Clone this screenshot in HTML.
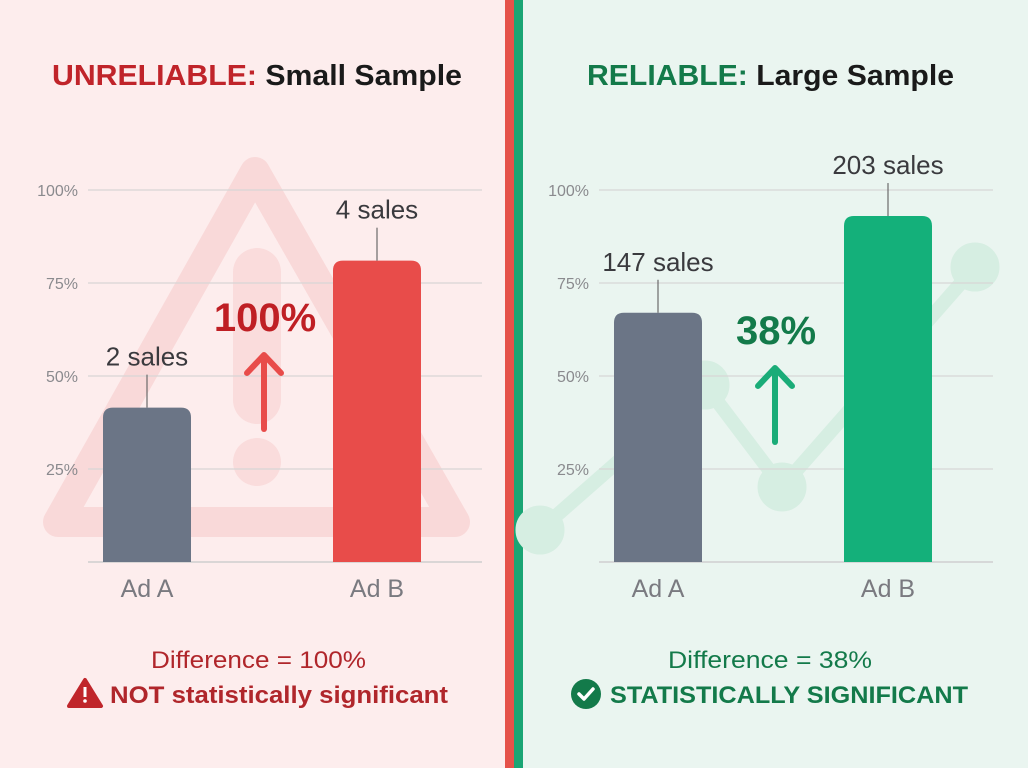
<!DOCTYPE html>
<html><head><meta charset="utf-8">
<style>
html,body{margin:0;padding:0;width:1028px;height:768px;overflow:hidden;font-family:"Liberation Sans",sans-serif;}
svg{display:block}
</style></head>
<body>
<svg id="c" width="1028" height="768" viewBox="0 0 1028 768" xmlns="http://www.w3.org/2000/svg">
<rect x="0" y="0" width="505" height="768" fill="#fdeded"/>
<rect x="523" y="0" width="505" height="768" fill="#eaf5f0"/>
<rect x="505" y="0" width="9" height="768" fill="#e5524a"/>
<rect x="514" y="0" width="9" height="768" fill="#1aa574"/>
<g>
<path d="M255,172 L455,522 L58,522 Z" fill="none" stroke="#f9d9d9" stroke-width="30" stroke-linejoin="round"/>
<line x1="257" y1="272" x2="257" y2="400" stroke="#fadcdc" stroke-width="48" stroke-linecap="round"/>
<circle cx="257" cy="462" r="24" fill="#fadcdc"/>
</g>
<g stroke="#d6eee2" fill="#d6eee2">
<polyline points="540,530 705,385 782,487 975,267" fill="none" stroke-width="14"/>
<circle cx="540" cy="530" r="24"/><circle cx="705" cy="385" r="24"/><circle cx="782" cy="487" r="24"/><circle cx="975" cy="267" r="24"/>
</g>
<text x="52" y="85" font-size="29" font-weight="bold" textLength="410" lengthAdjust="spacingAndGlyphs"><tspan fill="#c0242a">UNRELIABLE:</tspan><tspan fill="#1a1a1a"> Small Sample</tspan></text>
<text x="587" y="85" font-size="29" font-weight="bold" textLength="367" lengthAdjust="spacingAndGlyphs"><tspan fill="#137a4a">RELIABLE:</tspan><tspan fill="#1a1a1a"> Large Sample</tspan></text>
<g id="plots"></g>
<text x="151" y="668" font-size="24" fill="#b0262b" textLength="215" lengthAdjust="spacingAndGlyphs">Difference = 100%</text>
<g><path d="M85,680 L101,706 L69,706 Z" fill="#c0262b" stroke="#c0262b" stroke-width="4" stroke-linejoin="round"/><rect x="83.5" y="687" width="3" height="10" fill="#fff"/><circle cx="85" cy="701" r="1.8" fill="#fff"/></g>
<text x="110" y="703" font-size="24" font-weight="bold" fill="#b0262b" textLength="338" lengthAdjust="spacingAndGlyphs">NOT statistically significant</text>
<text x="668" y="668" font-size="24" fill="#137a4a" textLength="204" lengthAdjust="spacingAndGlyphs">Difference = 38%</text>
<g><circle cx="586" cy="694" r="15" fill="#137a4a"/><polyline points="579,694 584,699 593,689" fill="none" stroke="#fff" stroke-width="3.5" stroke-linecap="round" stroke-linejoin="round"/></g>
<text x="610" y="703" font-size="24" font-weight="bold" fill="#137a4a" textLength="358" lengthAdjust="spacingAndGlyphs">STATISTICALLY SIGNIFICANT</text>
</svg>
<script>
const categories = ["Ad A", "Ad B"];
const smallValues = [41.5, 81];
const largeValues = [67, 93];
const smallSales = ["2 sales", "4 sales"];
const largeSales = ["147 sales", "203 sales"];
const tickValues = [25, 50, 75, 100];
const tickLabels = ["25%", "50%", "75%", "100%"];
const smallDiff = "100%";
const largeDiff = "38%";

const NS = "http://www.w3.org/2000/svg";
const root = document.getElementById("plots");
function mk(tag, attrs, parent) {
  const e = document.createElementNS(NS, tag);
  for (const k in attrs) e.setAttribute(k, attrs[k]);
  (parent || root).appendChild(e);
  return e;
}
const y0 = 562, ppu = 3.72;
function yScale(v) { return y0 - v * ppu; }

function panel(prefix, left, vals, sales, colors, diff, diffColor, arrowColor, labelGap) {
  const g = mk("g", {});
  
  
  const gx0 = left, gx1 = left + 394;
  tickValues.forEach((t, i) => {
    const y = yScale(t);
    const l = mk("line", {x1: gx0, x2: gx1, y1: y, y2: y, stroke: "#d8d6d6", "stroke-width": 1.2}, g);
    
    
    const tx = mk("text", {x: gx0 - 10, y: y + 6, "text-anchor": "end", "font-size": 16, fill: "#8a8a8e"}, g);
    tx.textContent = tickLabels[i];
    
    
  });
  const base = mk("line", {x1: gx0, x2: gx1, y1: y0, y2: y0, stroke: "#cfcfcf", "stroke-width": 1.5}, g);
  
  
  const centers = [left + 59, left + 289];
  vals.forEach((v, i) => {
    const cx = centers[i], w = 88, top = yScale(v);
    const p = mk("path", {d: `M${cx-w/2},${y0} L${cx-w/2},${top+10} Q${cx-w/2},${top} ${cx-w/2+10},${top} L${cx+w/2-10},${top} Q${cx+w/2},${top} ${cx+w/2},${top+10} L${cx+w/2},${y0} Z`, fill: colors[i]}, g);
    
    
    const ln = mk("line", {x1: cx, x2: cx, y1: top, y2: top - 33, stroke: "#6b6b6b", "stroke-width": 1.2}, g);
    
    
    const st = mk("text", {x: cx, y: top - 42, "text-anchor": "middle", "font-size": 26, fill: "#3a3a3e"}, g);
    st.textContent = sales[i];
    
    
    const cl = mk("text", {x: cx, y: 597, "text-anchor": "middle", "font-size": 25, fill: "#7a7a80"}, g);
    cl.textContent = categories[i];
    
    
  });
  const mx = (centers[0] + centers[1]) / 2;
  const dt = mk("text", {x: mx + 3, y: labelGap, "text-anchor": "middle", "font-size": 40, "font-weight": "bold", fill: diffColor}, g);
  dt.textContent = diff;
  
  
  const ag = mk("g", {stroke: arrowColor, "stroke-width": 6, fill: "none", "stroke-linecap": "round", "stroke-linejoin": "round"}, g);
  
  
  const at = labelGap + 22, ab = at + 76;
  mk("line", {x1: mx + 2, x2: mx + 2, y1: at + 4, y2: ab}, ag);
  mk("polyline", {points: `${mx-15},${at+20} ${mx+2},${at+2} ${mx+19},${at+20}`}, ag);
}
panel("small-sample", 88, smallValues, smallSales, ["#6b7586", "#e84c4a"], smallDiff, "#bf1f24", "#e84c4a", 331);
panel("large-sample", 599, largeValues, largeSales, ["#6b7586", "#14b07a"], largeDiff, "#137a4a", "#1aac78", 344);
</script>
</body></html>
